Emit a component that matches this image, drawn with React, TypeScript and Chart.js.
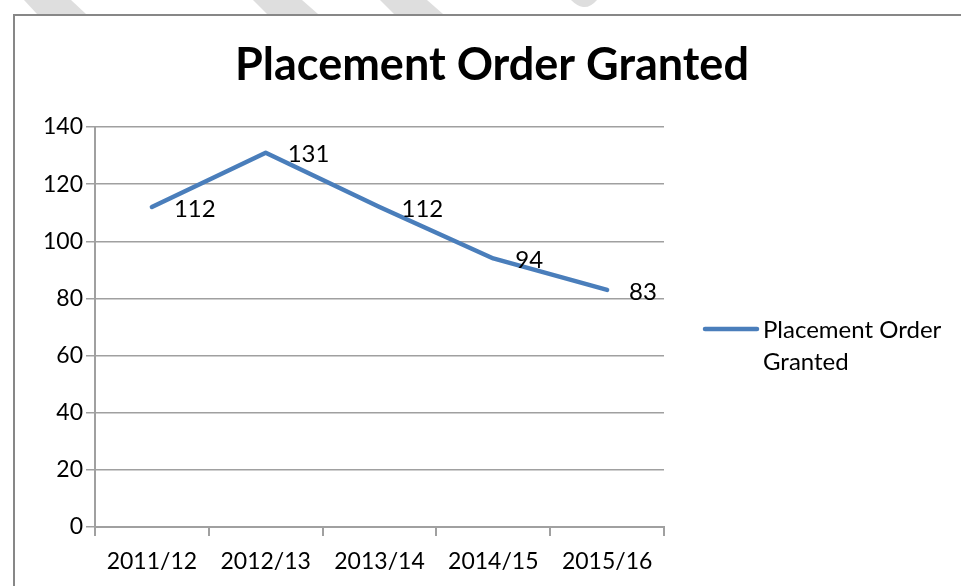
import React, { useEffect, useRef } from "react";
import { Chart, registerables } from "chart.js";

Chart.register(...registerables);

const categories = ["2011/12", "2012/13", "2013/14", "2014/15", "2015/16"];
const seriesName = "Placement Order Granted";
const values = [112, 131, 112, 94, 83];
const yTicks = [0, 20, 40, 60, 80, 100, 120, 140];
const titleText = "Placement Order Granted";
const legendLines = ["Placement Order", "Granted"];

const FONT = "Lato, 'Open Sans', sans-serif";
const LINE_COLOR = "#4a7ebb";
const GRID_COLOR = "#a0a0a0";
const TEXT_COLOR = "#000000";

const decorPlugin = {
  id: "decor",
  beforeDraw(chart: any) {
    const ctx = chart.ctx;
    ctx.save();
    ctx.fillStyle = "#ffffff";
    ctx.fillRect(0, 0, chart.width, chart.height);
    // light diagonal stripes above the frame
    ctx.fillStyle = "#dedede";
    const stripes = [
      [24, 71, 37, 86],
      [253, 302, 267, 318],
      [380, 427, 394, 443],
    ];
    for (const [a, b, c, d] of stripes) {
      ctx.beginPath();
      ctx.moveTo(a, 0);
      ctx.lineTo(b, 0);
      ctx.lineTo(d, 14);
      ctx.lineTo(c, 14);
      ctx.closePath();
      ctx.fill();
    }
    ctx.beginPath();
    ctx.moveTo(571, 0);
    ctx.lineTo(597, 0);
    ctx.quadraticCurveTo(590, 8, 583, 7);
    ctx.quadraticCurveTo(577, 6, 571, 0);
    ctx.fill();
    // frame
    ctx.strokeStyle = "#878787";
    ctx.lineWidth = 2;
    ctx.beginPath();
    ctx.moveTo(14, chart.height);
    ctx.lineTo(14, 15);
    ctx.lineTo(chart.width, 15);
    ctx.stroke();
    ctx.restore();
  },
  afterDraw(chart: any) {
    const ctx = chart.ctx;
    ctx.save();
    // title
    ctx.fillStyle = "#000000";
    ctx.font = `bold 45px ${FONT}`;
    ctx.textAlign = "center";
    ctx.textBaseline = "middle";
    ctx.fillText(titleText, 492, 65);
    // legend
    ctx.strokeStyle = LINE_COLOR;
    ctx.lineWidth = 4.5;
    ctx.lineCap = "round";
    ctx.beginPath();
    ctx.moveTo(705, 329);
    ctx.lineTo(757, 329);
    ctx.stroke();
    ctx.fillStyle = TEXT_COLOR;
    ctx.font = `24px ${FONT}`;
    ctx.textAlign = "left";
    legendLines.forEach((t, i) => ctx.fillText(t, 763, 330 + i * 32));
    ctx.restore();
  },
  afterDatasetsDraw(chart: any) {
    const ctx = chart.ctx;
    const meta = chart.getDatasetMeta(0);
    ctx.save();
    ctx.fillStyle = TEXT_COLOR;
    ctx.font = `24px ${FONT}`;
    ctx.textAlign = "left";
    ctx.textBaseline = "middle";
    meta.data.forEach((pt: any, i: number) => {
      ctx.fillText(String(values[i]), pt.x + 22, pt.y + 2);
    });
    ctx.restore();
  },
};

export default function App() {
  const ref = useRef<HTMLCanvasElement>(null);
  useEffect(() => {
    document.body.style.margin = "0";
    const chart = new Chart(ref.current!, {
      type: "line",
      data: {
        labels: categories,
        datasets: [
          {
            label: seriesName,
            data: values,
            borderColor: LINE_COLOR,
            backgroundColor: LINE_COLOR,
            borderWidth: 4.5,
            pointRadius: 0,
            tension: 0,
            borderCapStyle: "round",
            borderJoinStyle: "round",
          },
        ],
      },
      options: {
        animation: false,
        responsive: false,
        devicePixelRatio: 1,
        layout: { padding: { left: 15, right: 297, top: 127, bottom: 9 } },
        plugins: { legend: { display: false }, title: { display: false }, tooltip: { enabled: false } },
        scales: {
          x: {
            offset: true,
            grid: {
              offset: true,
              drawOnChartArea: false,
              drawTicks: true,
              tickLength: 9,
              color: GRID_COLOR,
              lineWidth: 2,
            },
            border: { color: GRID_COLOR, width: 2 },
            ticks: { color: TEXT_COLOR, font: { family: FONT, size: 23 }, padding: 12, maxRotation: 0 },
            afterFit: (s: any) => {
              s.height = 50;
            },
          },
          y: {
            min: 0,
            max: 140,
            afterBuildTicks: (s: any) => {
              s.ticks = yTicks.map((v) => ({ value: v }));
            },
            grid: { color: GRID_COLOR, lineWidth: 1.5, tickLength: 9 },
            border: { color: GRID_COLOR, width: 2 },
            ticks: { color: TEXT_COLOR, font: { family: FONT, size: 23 }, padding: 3 },
            afterFit: (s: any) => {
              s.width = 80;
            },
          },
        },
      },
      plugins: [decorPlugin],
    });
    return () => chart.destroy();
  }, []);
  return (
    <div style={{ width: 961, height: 586 }}>
      <canvas ref={ref} width={961} height={586} style={{ display: "block" }} />
    </div>
  );
}
